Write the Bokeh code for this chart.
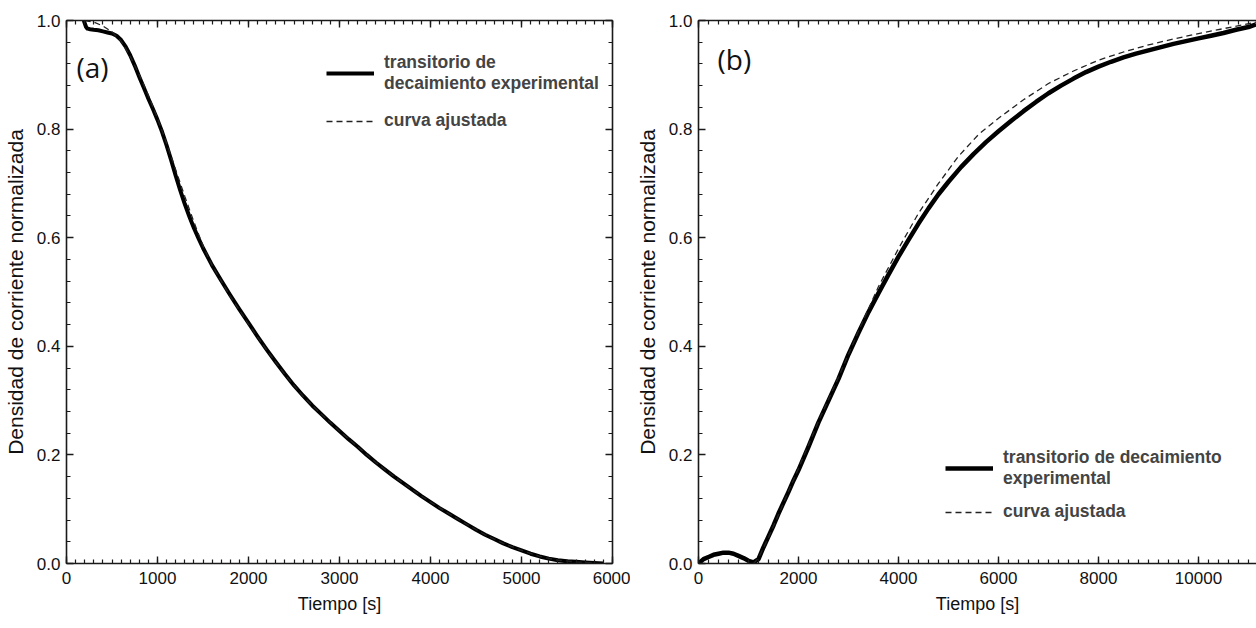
from bokeh.plotting import figure
from bokeh.models import (Range1d, LinearAxis, SingleIntervalTicker, Label, Legend, LegendItem,
                          PrintfTickFormatter, CustomJSTickFormatter)
from bokeh.layouts import row
from bokeh.embed import file_html
from bokeh.resources import INLINE

# ---------------- data: panel (a) decay ----------------
t_a_exp = [190, 200, 215, 230, 260, 300, 350, 400, 450, 500, 550, 600, 650, 700, 750, 800, 850, 900, 950,
           1000, 1050, 1100, 1150, 1200, 1250, 1300, 1350, 1400, 1450, 1500, 1600, 1700, 1800, 1900, 2000,
           2100, 2200, 2300, 2400, 2500, 2600, 2700, 2800, 2900, 3000, 3100, 3200, 3300, 3400, 3500, 3600,
           3700, 3800, 3900, 4000, 4100, 4200, 4300, 4400, 4500, 4600, 4700, 4800, 4900, 5000, 5100, 5200,
           5300, 5400, 5500, 5600, 5700, 5800, 5900]
v_a_exp = [1.0, 0.995, 0.988, 0.985, 0.984, 0.983, 0.982, 0.980, 0.978, 0.976, 0.972, 0.964, 0.952, 0.936,
           0.917, 0.896, 0.876, 0.856, 0.837, 0.817, 0.795, 0.770, 0.743, 0.714, 0.687, 0.662, 0.639, 0.618,
           0.599, 0.581, 0.549, 0.521, 0.494, 0.468, 0.443, 0.418, 0.394, 0.371, 0.349, 0.328, 0.309, 0.291,
           0.275, 0.259, 0.244, 0.229, 0.215, 0.200, 0.186, 0.173, 0.160, 0.148, 0.136, 0.124, 0.113, 0.102,
           0.092, 0.082, 0.072, 0.062, 0.053, 0.045, 0.037, 0.030, 0.024, 0.018, 0.013, 0.009, 0.006, 0.004,
           0.003, 0.002, 0.001, 0.0]
t_a_fit = [200, 300, 400, 500, 600, 700, 800, 900, 1000, 1100, 1200, 1300, 1400, 1500, 1600, 1800, 2000,
           2200, 2400, 2600, 2800, 3000, 3200, 3400, 3600, 3800, 4000, 4200, 4400, 4600, 4800, 5000, 5200,
           5400, 5600, 5800]
v_a_fit = [1.0, 0.997, 0.990, 0.979, 0.962, 0.934, 0.900, 0.862, 0.820, 0.774, 0.725, 0.676, 0.629, 0.585,
           0.549, 0.492, 0.441, 0.393, 0.348, 0.308, 0.275, 0.244, 0.215, 0.186, 0.160, 0.136, 0.113, 0.092,
           0.072, 0.053, 0.037, 0.024, 0.013, 0.006, 0.003, 0.001]

# ---------------- data: panel (b) rise ----------------
t_b_exp = [0, 100, 200, 300, 400, 500, 600, 700, 800, 900, 1000, 1100, 1200, 1300, 1400, 1500, 1600, 1700,
           1800, 1900, 2000, 2200, 2400, 2600, 2800, 3000, 3200, 3400, 3600, 3800, 4000, 4200, 4400, 4600,
           4800, 5000, 5250, 5500, 5750, 6000, 6250, 6500, 6750, 7000, 7250, 7500, 7750, 8000, 8250, 8500,
           8750, 9000, 9250, 9500, 9750, 10000, 10250, 10500, 10750, 11000, 11150]
v_b_exp = [0.0, 0.008, 0.012, 0.016, 0.018, 0.020, 0.020, 0.018, 0.014, 0.010, 0.005, 0.002, 0.008, 0.030,
           0.050, 0.070, 0.092, 0.112, 0.132, 0.153, 0.172, 0.215, 0.260, 0.300, 0.340, 0.385, 0.425, 0.463,
           0.498, 0.532, 0.565, 0.596, 0.626, 0.654, 0.680, 0.703, 0.730, 0.754, 0.776, 0.796, 0.815, 0.833,
           0.850, 0.866, 0.880, 0.893, 0.905, 0.915, 0.924, 0.932, 0.939, 0.945, 0.951, 0.957, 0.962, 0.967,
           0.972, 0.977, 0.983, 0.988, 0.993]
t_b_fit = [1100, 1200, 1400, 1600, 1800, 2000, 2400, 2800, 3200, 3600, 4000, 4400, 4800, 5200, 5600, 6000,
           6500, 7000, 7500, 8000, 8500, 9000, 9500, 10000, 10500, 11000, 11150]
v_b_fit = [0.0, 0.010, 0.048, 0.090, 0.133, 0.175, 0.262, 0.343, 0.428, 0.510, 0.580, 0.645, 0.700, 0.750,
           0.790, 0.820, 0.854, 0.884, 0.907, 0.927, 0.942, 0.955, 0.966, 0.976, 0.985, 0.994, 0.997]

label_exp = "transitorio de\ndecaimiento experimental"
label_exp_b = "transitorio de decaimiento\nexperimental"
label_fit = "curva ajustada"
x_title = "Tiempo [s]"
y_title = "Densidad de corriente normalizada"

SANS = "Liberation Sans"


def style_axis(ax, interval, minor, labels=True):
    ax.ticker = SingleIntervalTicker(interval=interval, num_minor_ticks=minor)
    ax.axis_line_color = "#1a1a1a"
    ax.axis_line_width = 1.6
    ax.major_tick_in = 7
    ax.major_tick_out = 0
    ax.minor_tick_in = 4
    ax.minor_tick_out = 0
    ax.major_tick_line_color = "#1a1a1a"
    ax.minor_tick_line_color = "#1a1a1a"
    ax.major_tick_line_width = 1.4
    ax.minor_tick_line_width = 1.2
    ax.major_label_text_font = SANS
    ax.major_label_text_font_size = "17px"
    ax.major_label_text_color = "#111111"
    ax.major_label_standoff = 7
    if not labels:
        ax.formatter = CustomJSTickFormatter(code="return ''")
        ax.major_label_standoff = 0
    ax.axis_label_text_font_style = "normal"
    ax.axis_label_text_color = "#111111"


def make_panel(xmax, xint, tag, t_exp, v_exp, t_fit, v_fit, lab_exp, legend_loc, spacing, width,
               borders, full_frame, tag_pos, exp_width):
    p = figure(width=width, height=628, x_range=Range1d(0, xmax), y_range=Range1d(0, 1.0),
               output_backend="svg", toolbar_location=None,
               min_border_left=borders[0], min_border_right=borders[1],
               min_border_top=borders[2], min_border_bottom=borders[3])
    p.grid.visible = False
    p.outline_line_color = None
    p.background_fill_color = "white"
    p.border_fill_color = "white"

    style_axis(p.xaxis[0], xint, 10)
    style_axis(p.yaxis[0], 0.2, 5)
    p.yaxis[0].formatter = PrintfTickFormatter(format="%.1f")
    p.yaxis[0].major_label_standoff = 6
    p.xaxis[0].major_label_standoff = 8
    p.xaxis[0].axis_label = x_title
    p.xaxis[0].axis_label_text_font = SANS
    p.xaxis[0].axis_label_text_font_size = "18px"
    p.xaxis[0].axis_label_standoff = 7
    p.yaxis[0].axis_label = y_title
    p.yaxis[0].axis_label_text_font = SANS
    p.yaxis[0].axis_label_text_font_size = "21px"
    p.yaxis[0].axis_label_standoff = 7

    top = LinearAxis()
    style_axis(top, xint, 10, labels=False)
    p.add_layout(top, "above")
    if full_frame:
        right = LinearAxis()
        style_axis(right, 0.2, 5, labels=False)
        p.add_layout(right, "right")

    r_exp = p.line(t_exp, v_exp, line_color="black", line_width=exp_width, line_join="round")
    r_fit = p.line(t_fit, v_fit, line_color="#222222", line_width=1.3, line_dash="6 4")

    leg = Legend(items=[LegendItem(label=lab_exp, renderers=[r_exp]),
                        LegendItem(label=label_fit, renderers=[r_fit])],
                 location=legend_loc, padding=0, spacing=spacing, glyph_width=48, label_standoff=10,
                 border_line_color=None, background_fill_alpha=0,
                 label_text_font=SANS, label_text_font_style="bold",
                 label_text_font_size="17.5px", label_text_line_height=1.15)
    p.add_layout(leg, "center")

    p.add_layout(Label(x=tag_pos[0], y=tag_pos[1], x_units="screen", y_units="screen", text=tag,
                       text_font="Open Sans", text_font_size="28px", text_baseline="top",
                       text_color="#111111"))
    return p


pa = make_panel(6000, 1000, "(a)", t_a_exp, v_a_exp, t_a_fit, v_a_fit, label_exp, (260, 432), 16, 630,
                (65, 18, 20, 65), True, (10, 516), 4)
pb = make_panel(11160, 2000, "(b)", t_b_exp, v_b_exp, t_b_fit, v_b_fit, label_exp_b, (247, 41), 12, 626,
                (68, 0, 16, 64), False, (19, 524), 4.5)

layout = row(pa, pb, spacing=0)
open("out.html", "w").write(file_html(layout, INLINE))
